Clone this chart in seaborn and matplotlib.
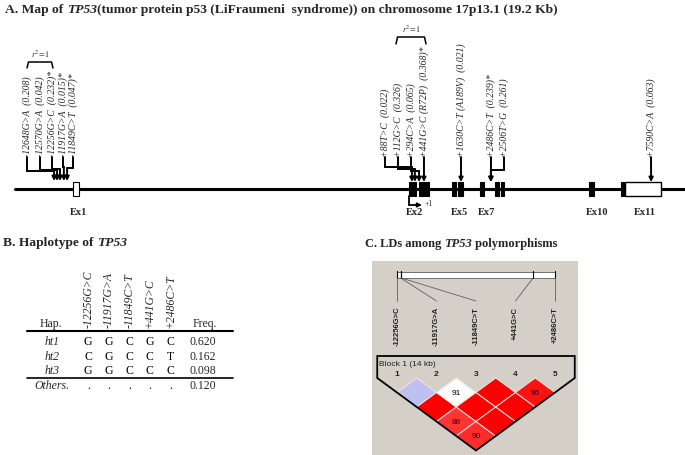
import numpy as np
import matplotlib
matplotlib.use("Agg")
import matplotlib.pyplot as plt
from matplotlib.patches import Rectangle, Polygon
from matplotlib.colors import ListedColormap
import seaborn as sns

# ============================
# DATA
# ============================
# A. gene map (kb from +1, on the schematic scale of the figure)
exon_start = [-10.34, 0.00, 0.15, 0.31, 1.32, 1.51, 2.18, 2.65, 2.83, 5.54, 6.52]
exon_end = [-10.15, 0.12, 0.22, 0.62, 1.45, 1.66, 2.31, 2.77, 2.92, 5.69, 6.65]
exon_coding = [False, True, True, True, True, True, True, True, True, True, True]
utr3_start, utr3_end = 6.65, 7.75
exon_labels = ["Ex1", "Ex2", "Ex5", "Ex7", "Ex10", "Ex11"]
exon_label_kb = [-10.18, 0.18, 1.54, 2.40, 5.78, 7.26]

snp_names = ["-12648G>A", "-12570G>A", "-12256G>C", "-11917G>A", "-11849C>T",
             "+88T>C", "+112G>C", "+294C>A", "+441G>C", "+1630C>T",
             "+2486C>T", "+2506T>G", "+7590C>A"]
snp_aa = ["", "", "", "", "", "", "", "", "R72P", "A189V", "", "", ""]
snp_maf = [0.208, 0.042, 0.232, 0.015, 0.047, 0.022, 0.326, 0.065, 0.368,
           0.021, 0.239, 0.261, 0.063]
snp_tag = [False, False, True, True, True, False, False, False, True,
           False, True, False, False]
snp_map_kb = [-10.92, -10.83, -10.74, -10.62, -10.52, 0.09, 0.18, 0.31, 0.46,
              1.60, 2.52, 2.52, 7.45]

# B. haplotypes
hap_names = ["ht1", "ht2", "ht3", "Others."]
hap_snps = ["-12256G>C", "-11917G>A", "-11849C>T", "+441G>C", "+2486C>T"]
hap_alleles = [["G", "G", "C", "G", "C"],
               ["C", "G", "C", "C", "T"],
               ["G", "G", "C", "C", "C"],
               [".", ".", ".", ".", "."]]
hap_freq = [0.620, 0.162, 0.098, 0.120]

# C. LD (Haploview)
ld_markers = ["-12256G>C", "-11917G>A", "-11849C>T", "+441G>C", "+2486C>T"]
ld_pos_bp = [-12256, -11917, -11849, 441, 2486]
ld_i = [1, 1, 1, 1, 2, 2, 2, 3, 3, 4]
ld_j = [2, 3, 4, 5, 3, 4, 5, 4, 5, 5]
ld_dprime = [100, 100, 88, 90, 91, 100, 100, 100, 100, 96]
ld_lod_ok = [False, True, True, True, False, True, True, True, True, True]

# ============================
# LAYOUT
# ============================
W, H = 685, 456
SERIF = "Liberation Serif"
SANS = "Liberation Sans"

sns.set_style("white")
plt.rcParams["font.family"] = [SERIF, "DejaVu Serif"]
plt.rcParams["mathtext.fontset"] = "stix"


def px2kb(px):
    return (px - 409) / 32.5


def fig_box(x0, y0, x1, y1):
    return [x0 / W, 1 - y1 / H, (x1 - x0) / W, (y1 - y0) / H]


fig = plt.figure(figsize=(6.85, 4.56), dpi=100)

# overlay in pixel units for titles and table rules (drawn on top)
ax_bg = fig.add_axes([0, 0, 1, 1], facecolor="none")
ax_bg.set_xlim(0, W)
ax_bg.set_ylim(H, 0)
ax_bg.axis("off")
ax_bg.set_zorder(10)


def rich_title(x, y, pieces, size=9.5):
    t = ax_bg.text(x, y, pieces[0][0], fontsize=size, fontweight="bold",
                   fontstyle=pieces[0][1], va="baseline", ha="left")
    for s, st in pieces[1:]:
        t = ax_bg.annotate(s, xy=(1, 0), xycoords=t, va="bottom", ha="left",
                           fontsize=size, fontweight="bold", fontstyle=st,
                           annotation_clip=False)


rich_title(5, 13, [("A. Map of ", "normal"), ("TP53", "italic"),
                   ("(tumor protein p53 (LiFraumeni  syndrome)) on chromosome 17p13.1 (19.2 Kb)", "normal")],
           size=9.7)
rich_title(3, 246, [("B. Haplotype of ", "normal"), ("TP53", "italic")], size=9.7)
rich_title(365, 247, [("C. LDs among ", "normal"), ("TP53", "italic"),
                      (" polymorphisms", "normal")], size=9.0)

# ============================
# A. gene map
# ============================
ax_a = fig.add_axes([0, 0, 1, 1], facecolor="none")
ax_a.set_xlim(px2kb(0), px2kb(W))
ax_a.set_ylim(H, 0)
ax_a.axis("off")

LINE_Y, EX_TOP, EX_BOT = 190, 183, 197
ax_a.plot([px2kb(15), px2kb(W)], [LINE_Y, LINE_Y], color="black", lw=2.2, zorder=1)
for s, e, c in zip(exon_start, exon_end, exon_coding):
    ax_a.add_patch(Rectangle((s, EX_TOP), e - s, EX_BOT - EX_TOP,
                             facecolor="black" if c else "white",
                             edgecolor="black", lw=0.8, zorder=2))
ax_a.add_patch(Rectangle((utr3_start, EX_TOP), utr3_end - utr3_start, EX_BOT - EX_TOP,
                         facecolor="white", edgecolor="black", lw=1.0, zorder=2))
for lab, x in zip(exon_labels, exon_label_kb):
    ax_a.text(x, 213, lab, ha="center", va="center", fontsize=7.5, fontweight="bold")

# transcription start +1
ax_a.plot([0, 0], [EX_BOT, 206], color="black", lw=1.3)
ax_a.annotate("", xy=(px2kb(422), 206), xytext=(0, 206),
              arrowprops=dict(arrowstyle="-|>", lw=1.3, color="black",
                              mutation_scale=6, shrinkA=0, shrinkB=0))
ax_a.text(px2kb(425), 204, "+1", fontsize=5.5, ha="left", va="center")

# SNP labels and arrows
label_px = [27, 40, 52, 63, 73, 385, 398, 411, 424, 461, 491, 504, 651]
elbow_y = [172, 171, 170, 168, 169, 168, 170, 172, None, None, None, 171, None]
LAB_BOT = 157
for k in range(len(snp_names)):
    txt = snp_names[k]
    if snp_aa[k]:
        txt += f" ({snp_aa[k]})"
    txt += f"  ({snp_maf[k]:.3f})" + ("*" if snp_tag[k] else "")
    lx = px2kb(label_px[k])
    ax_a.text(lx, LAB_BOT, txt, rotation=90, ha="center", va="bottom",
              fontsize=7, fontstyle="italic")
    ax_kb = snp_map_kb[k]
    tip = 182 if k < 5 else EX_TOP
    if elbow_y[k] is None:
        start = (lx, LAB_BOT + 1)
    else:
        ax_a.plot([lx, lx, ax_kb], [LAB_BOT + 1, elbow_y[k], elbow_y[k]],
                  color="black", lw=1.4, solid_joinstyle="miter")
        start = (ax_kb, elbow_y[k])
    ax_a.annotate("", xy=(ax_kb, tip), xytext=start,
                  arrowprops=dict(arrowstyle="-|>", lw=1.4, color="black",
                                  mutation_scale=6, shrinkA=0, shrinkB=0))

# r2 = 1 brackets
for x0, x1, yb, yt in [(27, 53, 69, 63), (396, 426, 45, 38)]:
    ax_a.plot([px2kb(x0), px2kb(x0 + 1.5), px2kb(x1 - 1.5), px2kb(x1)],
              [yb, yt, yt, yb], color="black", lw=1.1)
    ax_a.text(px2kb((x0 + x1) / 2), yt - 3, r"$r^2\!=\!1$", ha="center",
              va="bottom", fontsize=6)

# ============================
# B. haplotype table
# ============================
ax_b = fig.add_axes(fig_box(78, 335, 180.5, 393))
sns.heatmap(np.zeros((len(hap_names), len(hap_snps))), annot=np.array(hap_alleles),
            fmt="", cmap=ListedColormap(["white"]), cbar=False,
            xticklabels=hap_snps, yticklabels=hap_names, ax=ax_b,
            annot_kws=dict(fontsize=8.5, family=SERIF, color="black"))
ax_b.xaxis.tick_top()
ax_b.tick_params(axis="x", length=0, pad=5)
ax_b.tick_params(axis="y", length=0, pad=19)
for t in ax_b.get_xticklabels():
    t.set_rotation(90)
    t.set_fontstyle("italic")
    t.set_fontsize(8.5)
for t in ax_b.get_yticklabels():
    t.set_rotation(0)
    t.set_ha("center")
    t.set_fontstyle("italic")
    t.set_fontsize(8.5)
for r, f in enumerate(hap_freq):
    ax_b.text(6.1, r + 0.5, f"{f:.3f}", ha="center", va="center",
              fontsize=8.5, clip_on=False)
ax_bg.text(51, 327, "Hap.", ha="center", va="baseline", fontsize=8.5)
ax_bg.text(205, 327, "Freq.", ha="center", va="baseline", fontsize=8.5)
ax_bg.plot([27, 233], [332, 332], color="black", lw=1.5)
ax_bg.plot([27, 233], [378.5, 378.5], color="black", lw=1.2)

# ============================
# C. LD plot
# ============================
ax_c = fig.add_axes(fig_box(372, 262, 578, H), facecolor="#D4D0C8")
ax_c.set_xlim(1 + (372 - 397) / 39.5, 1 + (578 - 397) / 39.5)
ax_c.set_ylim((379 - H) / 29, (379 - 262) / 29)
ax_c.set_xticks([])
ax_c.set_yticks([])
for sp in ax_c.spines.values():
    sp.set_visible(False)


def ypx(px):
    return (379 - px) / 29


# physical map bar
n = len(ld_markers)
bar_x = 1 + (n - 1) * (np.array(ld_pos_bp) - ld_pos_bp[0]) / (ld_pos_bp[-1] - ld_pos_bp[0])
ax_c.add_patch(Rectangle((1, ypx(278.5)), n - 1, ypx(272.5) - ypx(278.5),
                         facecolor="white", edgecolor="#707070", lw=0.7))
for i, bx in enumerate(bar_x, start=1):
    ax_c.plot([bx, bx], [ypx(279), ypx(272)], color="black", lw=0.8)
    ax_c.plot([bx, i], [ypx(279), ypx(302)], color="#606060", lw=0.6)
    ax_c.text(i, ypx(307), ld_markers[i - 1], rotation=90, ha="center", va="top",
              fontsize=5.5, fontweight="bold", family=SANS, color="#202020")


def ld_color(d, strong):
    if not strong:
        return "#C0C0F0" if d == 100 else "white"
    g = min(255, int((255 - 32) * 2 * (1 - d / 100))) / 255
    return (1, g, g)


for i, j, d, ok in zip(ld_i, ld_j, ld_dprime, ld_lod_ok):
    cx, cy = (i + j) / 2, -(j - i) / 2
    ax_c.add_patch(Polygon([(cx, cy + 0.5), (cx + 0.5, cy), (cx, cy - 0.5), (cx - 0.5, cy)],
                           closed=True, facecolor=ld_color(d, ok),
                           edgecolor="#F4E4E4", lw=0.7))
    if d < 100:
        ax_c.text(cx, cy, str(d), ha="center", va="center", fontsize=6, family=SANS,
                  color="black" if not ok else "#3A0000")

ax_c.add_patch(Polygon([(0.5, 0), (0.5, ypx(357)), (n + 0.5, ypx(357)), (n + 0.5, 0),
                        ((n + 1) / 2, -n / 2)], closed=True, fill=False,
                       edgecolor="black", lw=1.3))
ax_c.text(0.55, ypx(365), "Block 1 (14 kb)", ha="left", va="center", fontsize=6,
          family=SANS, color="#202020")
for i in range(1, n + 1):
    ax_c.text(i, ypx(375), str(i), ha="center", va="center", fontsize=6,
              fontweight="bold", family=SANS, color="#202020")

fig.savefig("out.png", dpi=100)
